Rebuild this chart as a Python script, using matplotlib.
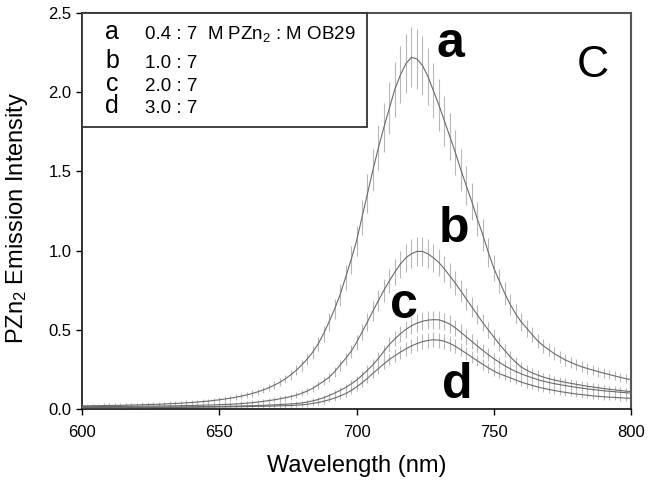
import numpy as np
import matplotlib
matplotlib.use('Agg')
import matplotlib.pyplot as plt
from matplotlib.patches import Rectangle

plt.rcParams['font.family'] = ['Liberation Sans', 'DejaVu Sans']
plt.rcParams['mathtext.fontset'] = 'custom'
plt.rcParams['mathtext.rm'] = 'Liberation Sans'
plt.rcParams['mathtext.it'] = 'Liberation Sans:italic'
plt.rcParams['mathtext.bf'] = 'Liberation Sans:bold'

# ---------------- data ----------------
wavelength = np.arange(600, 801, 2)

series_letters = ['a', 'b', 'c', 'd']
ratio_labels = ['0.4 : 7', '1.0 : 7', '2.0 : 7', '3.0 : 7']

int_a = [0.020, 0.020, 0.021, 0.021, 0.022, 0.022, 0.023, 0.023, 0.024, 0.025,
         0.026, 0.027, 0.028, 0.029, 0.030, 0.032, 0.033, 0.035, 0.037, 0.039,
         0.041, 0.044, 0.047, 0.050, 0.054, 0.058, 0.063, 0.068, 0.074, 0.081,
         0.089, 0.098, 0.108, 0.120, 0.134, 0.150, 0.168, 0.190, 0.215, 0.244,
         0.277, 0.315, 0.358, 0.410, 0.475, 0.550, 0.630, 0.720, 0.830, 0.940,
         1.060, 1.210, 1.360, 1.510, 1.650, 1.780, 1.900, 2.020, 2.110, 2.180,
         2.220, 2.210, 2.170, 2.100, 2.010, 1.920, 1.820, 1.720, 1.620, 1.510,
         1.410, 1.310, 1.200, 1.100, 0.990, 0.890, 0.810, 0.730, 0.660, 0.600,
         0.550, 0.510, 0.470, 0.430, 0.400, 0.375, 0.350, 0.330, 0.310, 0.295,
         0.280, 0.267, 0.256, 0.246, 0.236, 0.227, 0.218, 0.209, 0.200, 0.192,
         0.185]

int_b = [0.015, 0.015, 0.015, 0.015, 0.016, 0.016, 0.016, 0.016, 0.017, 0.017,
         0.017, 0.018, 0.018, 0.018, 0.019, 0.019, 0.020, 0.020, 0.021, 0.022,
         0.022, 0.023, 0.024, 0.025, 0.026, 0.027, 0.029, 0.030, 0.032, 0.034,
         0.037, 0.040, 0.044, 0.048, 0.053, 0.058, 0.064, 0.071, 0.078, 0.087,
         0.099, 0.113, 0.130, 0.152, 0.175, 0.200, 0.235, 0.277, 0.318, 0.363,
         0.420, 0.485, 0.550, 0.620, 0.685, 0.750, 0.810, 0.865, 0.915, 0.955,
         0.980, 0.995, 0.995, 0.980, 0.955, 0.925, 0.885, 0.840, 0.795, 0.745,
         0.695, 0.645, 0.595, 0.545, 0.500, 0.455, 0.410, 0.370, 0.330, 0.295,
         0.265, 0.245, 0.228, 0.214, 0.202, 0.192, 0.183, 0.176, 0.169, 0.162,
         0.156, 0.150, 0.144, 0.139, 0.134, 0.129, 0.125, 0.121, 0.117, 0.113,
         0.110]

int_c = [0.010, 0.010, 0.010, 0.010, 0.010, 0.010, 0.011, 0.011, 0.011, 0.011,
         0.011, 0.011, 0.012, 0.012, 0.012, 0.012, 0.013, 0.013, 0.013, 0.013,
         0.014, 0.014, 0.015, 0.015, 0.016, 0.016, 0.017, 0.018, 0.018, 0.019,
         0.020, 0.021, 0.022, 0.023, 0.025, 0.026, 0.028, 0.030, 0.032, 0.034,
         0.038, 0.044, 0.051, 0.060, 0.071, 0.085, 0.100, 0.117, 0.135, 0.158,
         0.182, 0.212, 0.245, 0.280, 0.320, 0.365, 0.408, 0.443, 0.475, 0.503,
         0.525, 0.542, 0.554, 0.561, 0.564, 0.563, 0.552, 0.536, 0.512, 0.485,
         0.455, 0.427, 0.398, 0.370, 0.343, 0.318, 0.295, 0.273, 0.254, 0.237,
         0.222, 0.209, 0.197, 0.186, 0.176, 0.168, 0.160, 0.154, 0.148, 0.142,
         0.137, 0.132, 0.127, 0.123, 0.119, 0.115, 0.112, 0.109, 0.106, 0.103,
         0.100]

int_d = [0.008, 0.008, 0.008, 0.008, 0.008, 0.008, 0.008, 0.008, 0.009, 0.009,
         0.009, 0.009, 0.009, 0.009, 0.010, 0.010, 0.010, 0.010, 0.010, 0.011,
         0.011, 0.011, 0.012, 0.012, 0.012, 0.013, 0.013, 0.014, 0.014, 0.015,
         0.015, 0.016, 0.017, 0.017, 0.018, 0.019, 0.020, 0.021, 0.022, 0.024,
         0.026, 0.030, 0.035, 0.041, 0.049, 0.058, 0.069, 0.082, 0.097, 0.116,
         0.139, 0.165, 0.194, 0.225, 0.255, 0.285, 0.313, 0.337, 0.359, 0.380,
         0.398, 0.413, 0.425, 0.433, 0.437, 0.435, 0.428, 0.414, 0.396, 0.374,
         0.351, 0.328, 0.305, 0.282, 0.260, 0.240, 0.223, 0.210, 0.197, 0.183,
         0.170, 0.159, 0.149, 0.139, 0.131, 0.124, 0.117, 0.111, 0.105, 0.100,
         0.095, 0.091, 0.087, 0.083, 0.080, 0.077, 0.075, 0.073, 0.071, 0.069,
         0.067]

# error bars: relative part + small absolute floor
err_frac = [0.08, 0.08, 0.08, 0.08]
err_floor = 0.012

series = [int_a, int_b, int_c, int_d]

# ---------------- figure ----------------
W, H = 651, 488
fig = plt.figure(figsize=(W / 100, H / 100), dpi=100)
L, R, T, B = 82, 631, 13, 409
ax = fig.add_axes([L / W, 1 - B / H, (R - L) / W, (B - T) / H])

for vals, ef in zip(series, err_frac):
    v = np.asarray(vals)
    err = ef * v + err_floor
    ax.errorbar(wavelength, v, yerr=err, fmt='none', ecolor='#b8b8b8',
                elinewidth=0.8, capsize=0, zorder=2)
    ax.plot(wavelength, v, color='#6a6a6a', lw=0.8, zorder=3)

ax.set_xlim(600, 800)
ax.set_ylim(0, 2.5)
ax.set_xticks([600, 650, 700, 750, 800])
ax.set_yticks([0.0, 0.5, 1.0, 1.5, 2.0, 2.5])
ax.set_yticklabels(['%.1f' % t for t in [0.0, 0.5, 1.0, 1.5, 2.0, 2.5]])
ax.tick_params(direction='out', length=4.5, width=1.0, labelsize=12,
               pad=3, colors='black')
ax.tick_params(axis='x', pad=7)
for side in ['left', 'bottom']:
    ax.spines[side].set_color('#111111')
    ax.spines[side].set_linewidth(1.2)
for side in ['right', 'top']:
    ax.spines[side].set_color('#555555')
    ax.spines[side].set_linewidth(1.5)

# axis labels
fig.text(356.5 / W, 1 - 466 / H, 'Wavelength (nm)', ha='center', va='center',
         fontsize=17)
fig.text(17 / W, 1 - 218 / H, 'PZn$_2$ Emission Intensity', ha='center',
         va='center', rotation=90, fontsize=17)

# legend box
box = Rectangle((600, 1.78), 103.8, 0.72, transform=ax.transData,
                facecolor='white', edgecolor='#333333', lw=1.3, zorder=5,
                clip_on=False)
ax.add_patch(box)
row_y = [2.334, 2.151, 2.009, 1.871]
for letter, lab, yy in zip(series_letters, ratio_labels, row_y):
    ax.text(610.9, yy, letter, ha='center', va='baseline', fontsize=18,
            zorder=6)
    ax.text(622.9, yy, lab, ha='left', va='baseline', fontsize=13.5, zorder=6)
ax.text(645.5, row_y[0], 'M PZn$_2$ : M OB29', ha='left', va='baseline',
        fontsize=13.5, zorder=6)

# curve labels
big_pos = [(734.4, 2.222), (735.5, 1.054), (717.3, 0.574), (736.6, 0.069)]
for letter, (xx, yy) in zip(series_letters, big_pos):
    ax.text(xx, yy, letter, ha='center', va='baseline', fontsize=36,
            fontweight='bold', zorder=6)
ax.text(786.0, 2.096, 'C', ha='center', va='baseline', fontsize=32, zorder=6)

fig.savefig('out.png', dpi=100)
